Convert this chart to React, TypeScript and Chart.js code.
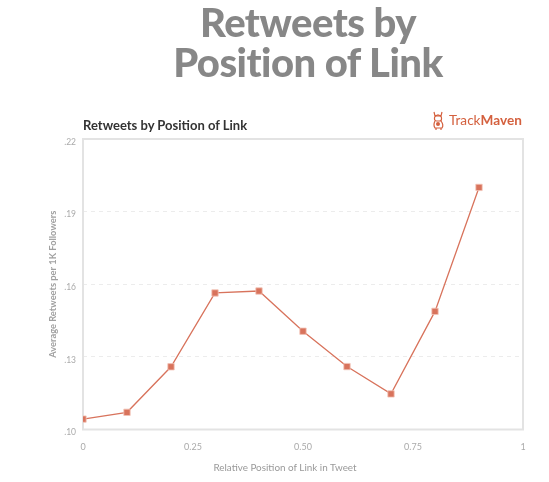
import React, { useEffect, useRef } from "react";
import { Chart, registerables } from "chart.js";

Chart.register(...registerables);

const positions = [0, 0.1, 0.2, 0.3, 0.4, 0.5, 0.6, 0.7, 0.8, 0.9];
const retweets = [0.1043, 0.1071, 0.1259, 0.1564, 0.1572, 0.1406, 0.126, 0.1147, 0.1488, 0.2];
const yTicks = [0.1, 0.13, 0.16, 0.19, 0.22];
const xTicks = [0, 0.25, 0.5, 0.75, 1];
const xTickLabels = ["0", "0.25", "0.50", "0.75", "1"];

const LINE = "#d8735c";

const frame = {
  id: "frame",
  beforeDatasetsDraw(chart: any) {
    const { ctx, chartArea } = chart;
    ctx.save();
    ctx.strokeStyle = "#e3e3e3";
    ctx.lineWidth = 2;
    ctx.strokeRect(chartArea.left, chartArea.top, chartArea.right - chartArea.left, chartArea.bottom - chartArea.top);
    ctx.restore();
  },
};

export default function App() {
  const ref = useRef<HTMLCanvasElement | null>(null);
  useEffect(() => {
    document.body.style.margin = "0";
    const chart = new Chart(ref.current as HTMLCanvasElement, {
      type: "line",
      data: {
        datasets: [
          {
            data: positions.map((x, i) => ({ x, y: retweets[i] })),
            borderColor: LINE,
            backgroundColor: LINE,
            borderWidth: 1.3,
            pointStyle: "rect",
            pointRadius: 4.5,
            pointBorderColor: "#f2c4b8",
            pointBorderWidth: 0.8,
            tension: 0,
          },
        ],
      },
      options: {
        responsive: false,
        animation: false,
        layout: { padding: { left: 0, top: 139, right: 26, bottom: 0 } },
        plugins: { legend: { display: false }, tooltip: { enabled: false } },
        scales: {
          x: {
            type: "linear",
            min: 0,
            max: 1,
            afterFit: (s: any) => { s.height = 52.5; },
            afterBuildTicks: (s: any) => { s.ticks = xTicks.map((v) => ({ value: v })); },
            grid: { display: false, drawTicks: false },
            border: { display: false },
            ticks: {
              padding: 12,
              color: "#aaaaaa",
              font: { family: "Lato", size: 9 },
              maxRotation: 0,
              callback: (v: any) => xTickLabels[xTicks.indexOf(Number(v))] ?? "",
            },
            title: { display: false },
          },
          y: {
            type: "linear",
            min: 0.1,
            max: 0.22,
            afterFit: (s: any) => { s.width = 83; },
            afterBuildTicks: (s: any) => { s.ticks = yTicks.map((v) => ({ value: v })); },
            grid: {
              drawTicks: false,
              color: (c: any) => (c.tick && (c.tick.value === 0.1 || c.tick.value === 0.22) ? "rgba(0,0,0,0)" : "#ececec"),
              lineWidth: 1,
            },
            border: { display: false, dash: [4, 4] },
            ticks: {
              padding: 7,
              labelOffset: 3,
              color: "#aaaaaa",
              font: { family: "Lato", size: 8.5 },
              callback: (v: any) => "." + Math.round(Number(v) * 100),
            },
            title: {
              display: true,
              text: "Average Retweets per 1K Followers",
              color: "#a0a0a0",
              font: { family: "Lato", size: 9.3, weight: "bold" },
              padding: { top: 47, bottom: 0 },
            },
          },
        },
      },
      plugins: [frame],
    } as any);
    return () => chart.destroy();
  }, []);

  return (
    <div style={{ position: "absolute", left: 0, top: 0, width: 549, height: 482, background: "#fff" }}>
      <canvas ref={ref} width={549} height={482} style={{ position: "absolute", left: 0, top: 0 }} />
      <div
        style={{
          position: "absolute",
          left: 0,
          width: 616,
          top: 2,
          textAlign: "center",
          fontFamily: "Lato",
          fontWeight: 900,
          fontSize: 40,
          letterSpacing: "-0.5px",
          lineHeight: "40px",
          color: "#878787",
        }}
      >
        Retweets by
        <br />
        Position of Link
      </div>
      <div
        style={{
          position: "absolute",
          left: 83,
          top: 117,
          fontFamily: "Lato",
          fontWeight: 700,
          fontSize: 13,
          color: "#333333",
          whiteSpace: "nowrap",
        }}
      >
        Retweets by Position of Link
      </div>
      <div
        style={{
          position: "absolute",
          left: 449,
          top: 112,
          fontFamily: "Lato",
          fontSize: 13.6,
          color: "#d4603e",
          whiteSpace: "nowrap",
        }}
      >
        Track<span style={{ fontWeight: 700 }}>Maven</span>
      </div>
      <div
        style={{
          position: "absolute",
          left: 185,
          width: 200,
          top: 461,
          textAlign: "center",
          fontFamily: "Lato",
          fontSize: 9.9,
          lineHeight: "12px",
          color: "#999999",
          whiteSpace: "nowrap",
        }}
      >
        Relative Position of Link in Tweet
      </div>
      <svg style={{ position: "absolute", left: 431, top: 111 }} width={15} height={20} viewBox="0 0 15 20">
        <g fill="none" stroke="#d4603e" strokeWidth={1.2}>
          <path d="M3 1 L4 5 L7 4 L10 5 L11 1" />
          <rect x={3.5} y={5} width={7} height={5} rx={2} />
          <path d="M4 10 Q2 14 4 17 L11 17 Q13 14 10 10" />
          <path d="M5 17 L5 19 M10 17 L10 19" />
        </g>
        <circle cx={7} cy={13} r={2} fill="#d4603e" />
      </svg>
    </div>
  );
}
